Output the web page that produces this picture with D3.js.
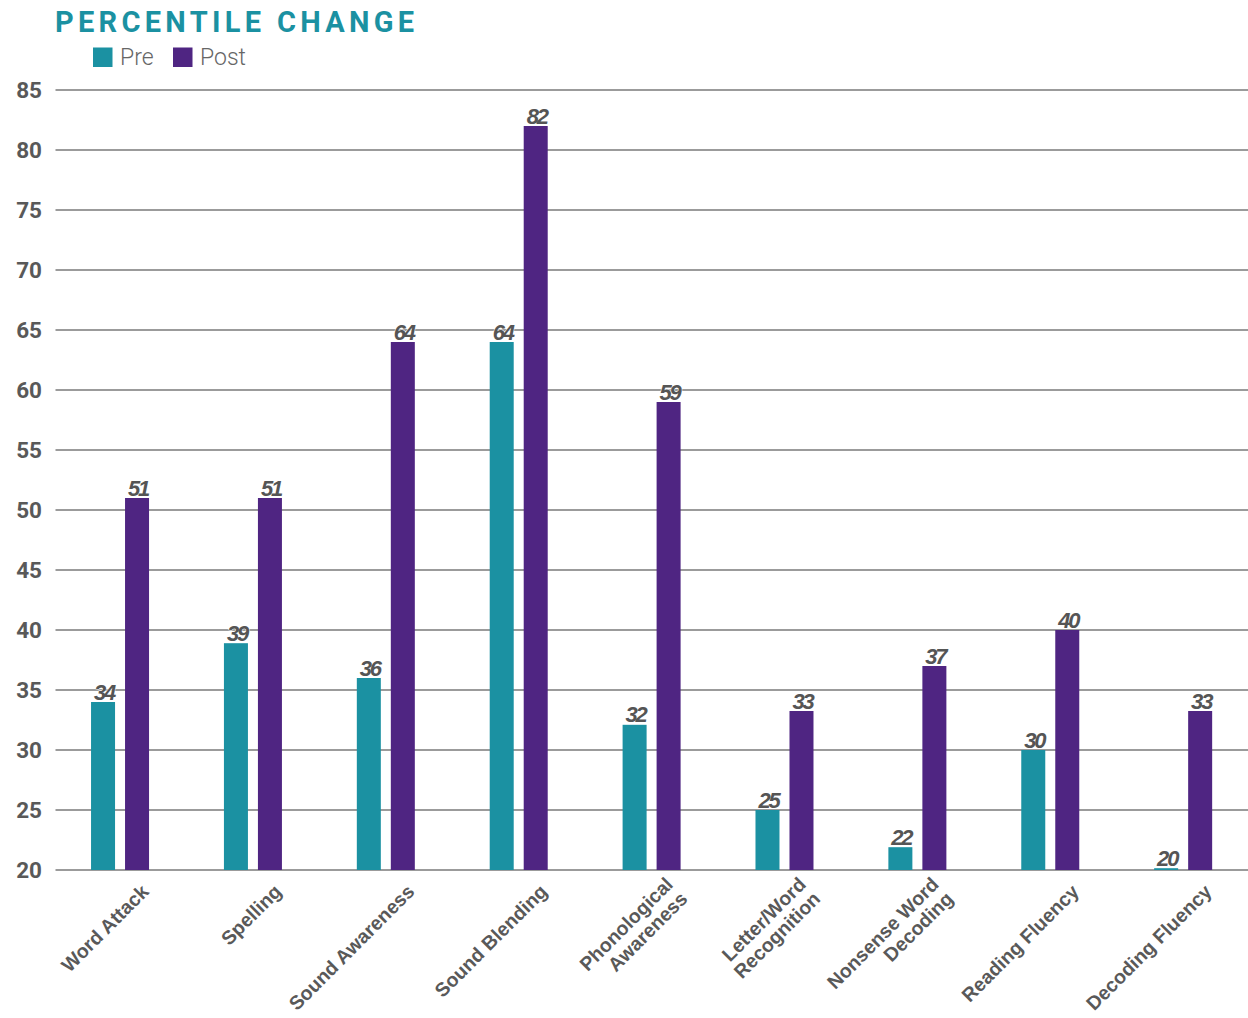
<!DOCTYPE html>
<html><head><meta charset="utf-8">
<script src="https://cdn.jsdelivr.net/npm/d3@7"></script>
<style>body{margin:0;background:#fff}svg{display:block}</style>
</head><body>
<svg id="chart" width="1248" height="1018"></svg>
<script>
const categories = ["Word Attack","Spelling","Sound Awareness","Sound Blending","Phonological\nAwareness","Letter/Word\nRecognition","Nonsense Word\nDecoding","Reading Fluency","Decoding Fluency"];
const preValues  = [34, 38.9, 36, 64, 32.1, 25, 21.9, 30, 20.15];
const postValues = [51, 51, 64, 82, 59, 33.25, 37, 40, 33.25];
const seriesNames = ["Pre","Post"];
const yTicks = [20,25,30,35,40,45,50,55,60,65,70,75,80,85];
const title = "PERCENTILE CHANGE";

const colors = {Pre:"#1b91a2", Post:"#4f2582"};
const svg = d3.select("#chart");
const font = "Roboto, 'Noto Sans', sans-serif";
const arial = "'Liberation Sans', Arial, sans-serif";

const x = d3.scaleBand().domain(categories).range([53.6, 1249.6]).padding(0);
const y = d3.scaleLinear().domain([20,85]).range([870,90]);
const barW = 24, gap = 10;
const sub = d3.scaleOrdinal().domain(seriesNames).range([-(gap/2+barW), gap/2]);

// title
svg.append("text").attr("x",55).attr("y",32).text(title)
  .attr("font-family",font).attr("font-weight",700).attr("font-size",29)
  .attr("letter-spacing","4.3px").attr("fill","#1b91a2");

// legend
const leg = svg.append("g");
[["Pre",93,120],["Post",173,200]].forEach(([n,sx,tx])=>{
  leg.append("rect").attr("x",sx).attr("y",47.5).attr("width",19.5).attr("height",19.5).attr("fill",colors[n]);
  leg.append("text").attr("x",tx).attr("y",65).text(n).attr("font-family",font)
    .attr("font-weight",300).attr("font-size",23).attr("fill","#666");
});

// grid
svg.append("g").selectAll("line").data(yTicks).join("line")
  .attr("x1",55.5).attr("x2",1248).attr("y1",d=>y(d)).attr("y2",d=>y(d))
  .attr("stroke","#7a7a7a").attr("stroke-width",1.5);

// y axis labels
svg.append("g").selectAll("text").data(yTicks).join("text")
  .attr("x",42).attr("y",d=>y(d)).attr("dy","0.36em").attr("text-anchor","end")
  .text(d=>d).attr("font-family",font).attr("font-weight",700).attr("font-size",22.5).attr("fill","#595959");

// bars
const rows = categories.map((c,i)=>({cat:c, Pre:preValues[i], Post:postValues[i]}));
const g = svg.append("g");
seriesNames.forEach(s=>{
  g.selectAll("rect."+s).data(rows).join("rect").attr("class",s)
    .attr("x",d=>x(d.cat)+x.bandwidth()/2+sub(s)).attr("width",barW)
    .attr("y",d=>y(d[s])).attr("height",d=>y(20)-y(d[s])).attr("fill",colors[s]);
  g.selectAll("text."+s).data(rows).join("text").attr("class",s)
    .attr("x",d=>x(d.cat)+x.bandwidth()/2+sub(s)+barW/2+1).attr("y",d=>y(d[s])-2.5)
    .attr("text-anchor","middle").text(d=>Math.round(d[s]))
    .attr("font-family",arial).attr("font-weight",700).attr("font-style","italic")
    .attr("font-size",22).attr("letter-spacing","-2.2px").attr("fill","#555")
    .attr("stroke","#fff").attr("stroke-width",1).attr("paint-order","stroke");
});

// x labels
const xl = svg.append("g");
categories.forEach(c=>{
  const ax = x(c)+x.bandwidth()/2+25, ay = 888;
  const lines = c.split("\n");
  const t = xl.append("text").attr("transform",`translate(${ax},${ay}) rotate(-45)`)
    .attr("text-anchor","end").attr("font-family",arial).attr("font-weight",700)
    .attr("font-size",19.5).attr("fill","#595959");
  lines.forEach((ln,k)=>{
    const off = (k-(lines.length-1)/2)*1.05;
    t.append("tspan").attr("x",0).attr("y",0).attr("dy",(off+0.35)+"em").text(ln);
  });
});
</script>
</body></html>
